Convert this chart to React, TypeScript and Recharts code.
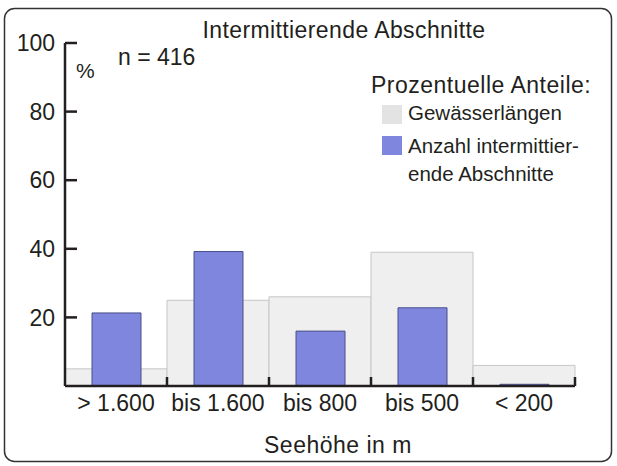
import { Bar, BarChart, XAxis, YAxis } from 'recharts'

const categories = ['> 1.600', 'bis 1.600', 'bis 800', 'bis 500', '< 200']
// Prozentuelle Anteile
const gewaesserlaengen = [5, 25, 26, 39, 6]
const intermittierend = [21.3, 39.2, 16, 22.8, 0.5]
const yTicks = [20, 40, 60, 80, 100]

const W = 617
const H = 466
const margin = { top: 43, right: 42, bottom: 50, left: 0 }
const yAxisWidth = 65
const band = (W - margin.left - margin.right - yAxisWidth) / categories.length

const ink = '#231f20'
const font = '"Liberation Sans", Arial, sans-serif'
const grayFill = '#efefef'
const grayStroke = '#c6c6c6'
const blueFill = '#7e86de'
const blueStroke = '#4a4e8a'

const data = categories.map((name, i) => ({
  name,
  laenge: gewaesserlaengen[i],
  anzahl: intermittierend[i],
}))

function YTick({ x, y, payload }: any) {
  return (
    <g>
      <line x1={x + 10} x2={x + 22} y1={y} y2={y} stroke={ink} strokeWidth={2.5} />
      <text x={x} y={y} dy="0.36em" textAnchor="end" fontSize={23} fill={ink} fontFamily={font}>
        {payload.value}
      </text>
    </g>
  )
}

function XTick({ x, y, payload }: any) {
  // tick marks sit on the category boundaries and point into the plot
  const right = x + band / 2
  return (
    <g>
      <line x1={right} x2={right} y1={y} y2={y - 9} stroke={ink} strokeWidth={2.5} />
      <text x={x} y={y + 25} textAnchor="middle" fontSize={23} fill={ink} fontFamily={font}>
        {payload.value}
      </text>
    </g>
  )
}

export default function App() {
  return (
    <div style={{ position: 'absolute', left: 0, top: 0, width: W, height: H, background: '#fff' }}>
      <BarChart width={W} height={H} data={data} margin={margin} barCategoryGap={0}>
        <Bar
          dataKey="laenge"
          xAxisId="main"
          fill={grayFill}
          stroke={grayStroke}
          strokeWidth={1}
          isAnimationActive={false}
        />
        <Bar
          dataKey="anzahl"
          xAxisId="over"
          barSize={49}
          fill={blueFill}
          stroke={blueStroke}
          strokeWidth={1}
          isAnimationActive={false}
        />
        <XAxis xAxisId="over" dataKey="name" hide />
        <XAxis
          xAxisId="main"
          dataKey="name"
          height={30}
          interval={0}
          tickSize={0}
          tickMargin={0}
          tick={<XTick />}
          axisLine={{ stroke: ink, strokeWidth: 2.5 }}
        />
        <YAxis
          width={yAxisWidth}
          domain={[0, 100]}
          ticks={yTicks}
          interval={0}
          tickSize={0}
          tickMargin={10}
          tick={<YTick />}
          axisLine={{ stroke: ink, strokeWidth: 2.5 }}
        />
      </BarChart>
      <svg
        width={W}
        height={H}
        style={{ position: 'absolute', left: 0, top: 0, pointerEvents: 'none' }}
        fontFamily={font}
        fill={ink}
      >
        <rect x={4.5} y={8.5} width={607} height={453} rx={10} fill="none" stroke="#333" strokeWidth={1.5} />
        <text x={344} y={38} textAnchor="middle" fontSize={23} letterSpacing={0.4}>
          Intermittierende Abschnitte
        </text>
        <text x={118} y={65} fontSize={23}>
          n = 416
        </text>
        <text x={76} y={78} fontSize={21}>
          %
        </text>
        <text x={371} y={93} fontSize={23} letterSpacing={0.5}>
          Prozentuelle Anteile:
        </text>
        <rect x={382} y={105} width={20} height={19} fill="#e3e3e3" />
        <text x={408} y={120} fontSize={20.5}>
          Gewässerlängen
        </text>
        <rect x={382} y={136} width={20} height={19} fill={blueFill} />
        <text x={408} y={153} fontSize={20.5}>
          Anzahl intermittier-
        </text>
        <text x={408} y={181} fontSize={20.5}>
          ende Abschnitte
        </text>
        <text x={338} y={453} textAnchor="middle" fontSize={23} letterSpacing={0.5}>
          Seehöhe in m
        </text>
      </svg>
    </div>
  )
}
